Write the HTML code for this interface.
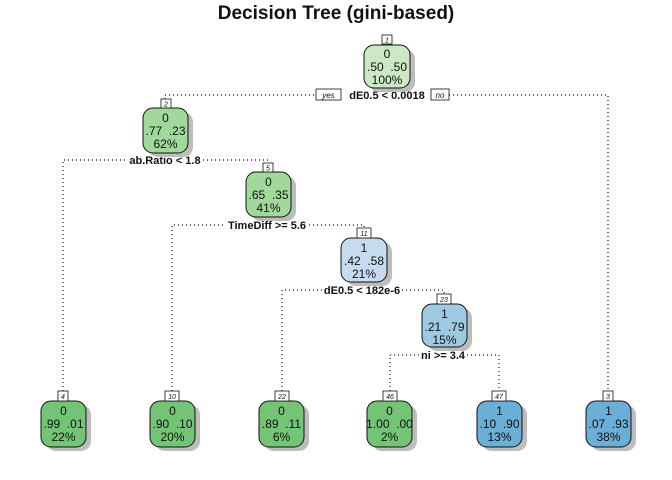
<!DOCTYPE html>
<html><head><meta charset="utf-8"><style>
html,body{margin:0;padding:0;background:#fff;}
svg{display:block;font-family:"Liberation Sans",Arial,sans-serif;}
text{white-space:pre;}
.t{font-size:12px;fill:#111;text-anchor:middle;}
.s{font-size:11px;font-weight:bold;fill:#111;text-anchor:middle;}
.n{font-size:7px;font-style:italic;fill:#111;text-anchor:middle;}
.d{stroke:#111;stroke-width:1.2;stroke-dasharray:1 3;fill:none;}
.sh{fill:#bdbdbd;}
.b{stroke:#111;stroke-width:1;}
</style></head><body>
<svg width="672" height="480" viewBox="0 0 672 480" xmlns="http://www.w3.org/2000/svg" xml:space="preserve">
<text x="336" y="19" style="font-size:19px;font-weight:bold;text-anchor:middle;fill:#111">Decision Tree (gini-based)</text>

<path class="d" d="M165 107 V95 H316 M449 95 H608 V391"/>
<path class="d" d="M63 391 V160 H128 M203 160 H268 V163"/>
<path class="d" d="M172 391 V225 H225 M309 225 H364 V228"/>
<path class="d" d="M282 391 V290 H322 M402 290 H444 V294"/>
<path class="d" d="M390 391 V355 H420 M467 355 H499 V391"/>

<rect x="316" y="89" width="25" height="11" fill="#fff" stroke="#111" stroke-width="0.8"/>
<text x="328.5" y="98" class="n" style="font-size:8px">yes</text>
<text x="387" y="99" class="s">dE0.5 &lt; 0.0018</text>
<rect x="431" y="89" width="18" height="11" fill="#fff" stroke="#111" stroke-width="0.8"/>
<text x="440" y="98" class="n" style="font-size:8px">no</text>
<text x="165" y="164" class="s">ab.Ratio &lt; 1.8</text>
<text x="267" y="229" class="s">TimeDiff &gt;= 5.6</text>
<text x="362" y="294" class="s">dE0.5 &lt; 182e-6</text>
<text x="443" y="359" class="s">ni &gt;= 3.4</text>

<g>
<rect class="sh" x="369" y="49" width="46" height="43" rx="10"/>
<rect class="b" x="364" y="45" width="46" height="43" rx="10" fill="#cce8c4"/>
<rect x="382" y="35" width="10" height="9" fill="#fff" stroke="#111" stroke-width="0.8"/><text x="387" y="42.5" class="n">1</text>
<text x="387" y="58" class="t">0</text><text x="387" y="71" class="t">.50  .50</text><text x="387" y="84" class="t">100%</text>
</g>
<g>
<rect class="sh" x="148" y="112" width="45" height="45" rx="10"/>
<rect class="b" x="143" y="108" width="45" height="45" rx="10" fill="#a1d99b"/>
<rect x="161" y="99" width="10" height="9" fill="#fff" stroke="#111" stroke-width="0.8"/><text x="166" y="106.5" class="n">2</text>
<text x="165.5" y="122" class="t">0</text><text x="165.5" y="135" class="t">.77  .23</text><text x="165.5" y="148" class="t">62%</text>
</g>
<g>
<rect class="sh" x="251" y="176" width="45" height="45" rx="10"/>
<rect class="b" x="246" y="172" width="45" height="45" rx="10" fill="#a1d99b"/>
<rect x="263" y="163" width="10" height="9" fill="#fff" stroke="#111" stroke-width="0.8"/><text x="268" y="170.5" class="n">5</text>
<text x="268.5" y="186" class="t">0</text><text x="268.5" y="199" class="t">.65  .35</text><text x="268.5" y="212" class="t">41%</text>
</g>
<g>
<rect class="sh" x="346" y="242" width="46" height="44" rx="10"/>
<rect class="b" x="341" y="238" width="46" height="44" rx="10" fill="#c6dbef"/>
<rect x="357" y="228" width="14" height="10" fill="#fff" stroke="#111" stroke-width="0.8"/><text x="364" y="236" class="n">11</text>
<text x="364" y="252" class="t">1</text><text x="364" y="265" class="t">.42  .58</text><text x="364" y="278" class="t">21%</text>
</g>
<g>
<rect class="sh" x="427" y="308" width="45" height="43" rx="10"/>
<rect class="b" x="422" y="304" width="45" height="43" rx="10" fill="#9ecae1"/>
<rect x="437" y="294" width="14" height="10" fill="#fff" stroke="#111" stroke-width="0.8"/><text x="444" y="302" class="n">23</text>
<text x="444.5" y="318" class="t">1</text><text x="444.5" y="331" class="t">.21  .79</text><text x="444.5" y="344" class="t">15%</text>
</g>

<g>
<rect class="sh" x="46" y="405" width="45" height="46" rx="10"/>
<rect class="b" x="41" y="401" width="45" height="46" rx="10" fill="#74c476"/>
<rect x="58" y="391" width="10" height="10" fill="#fff" stroke="#111" stroke-width="0.8"/><text x="63" y="399" class="n">4</text>
<text x="63.5" y="415" class="t">0</text><text x="63.5" y="428" class="t">.99  .01</text><text x="63.5" y="441" class="t">22%</text>
</g>
<g>
<rect class="sh" x="155" y="405" width="45" height="46" rx="10"/>
<rect class="b" x="150" y="401" width="45" height="46" rx="10" fill="#74c476"/>
<rect x="165" y="391" width="14" height="10" fill="#fff" stroke="#111" stroke-width="0.8"/><text x="172" y="399" class="n">10</text>
<text x="172.5" y="415" class="t">0</text><text x="172.5" y="428" class="t">.90  .10</text><text x="172.5" y="441" class="t">20%</text>
</g>
<g>
<rect class="sh" x="264" y="405" width="45" height="46" rx="10"/>
<rect class="b" x="259" y="401" width="45" height="46" rx="10" fill="#74c476"/>
<rect x="275" y="391" width="14" height="10" fill="#fff" stroke="#111" stroke-width="0.8"/><text x="282" y="399" class="n">22</text>
<text x="281.5" y="415" class="t">0</text><text x="281.5" y="428" class="t">.89  .11</text><text x="281.5" y="441" class="t">6%</text>
</g>
<g>
<rect class="sh" x="372" y="405" width="45" height="46" rx="10"/>
<rect class="b" x="367" y="401" width="45" height="46" rx="10" fill="#74c476"/>
<rect x="383" y="391" width="14" height="10" fill="#fff" stroke="#111" stroke-width="0.8"/><text x="390" y="399" class="n">46</text>
<text x="389.5" y="415" class="t">0</text><text x="389.5" y="428" class="t">1.00  .00</text><text x="389.5" y="441" class="t">2%</text>
</g>
<g>
<rect class="sh" x="482" y="405" width="45" height="46" rx="10"/>
<rect class="b" x="477" y="401" width="45" height="46" rx="10" fill="#6baed6"/>
<rect x="492" y="391" width="14" height="10" fill="#fff" stroke="#111" stroke-width="0.8"/><text x="499" y="399" class="n">47</text>
<text x="499.5" y="415" class="t">1</text><text x="499.5" y="428" class="t">.10  .90</text><text x="499.5" y="441" class="t">13%</text>
</g>
<g>
<rect class="sh" x="591" y="405" width="45" height="46" rx="10"/>
<rect class="b" x="586" y="401" width="45" height="46" rx="10" fill="#6baed6"/>
<rect x="603" y="391" width="10" height="10" fill="#fff" stroke="#111" stroke-width="0.8"/><text x="608" y="399" class="n">3</text>
<text x="608.5" y="415" class="t">1</text><text x="608.5" y="428" class="t">.07  .93</text><text x="608.5" y="441" class="t">38%</text>
</g>
</svg>
</body></html>
